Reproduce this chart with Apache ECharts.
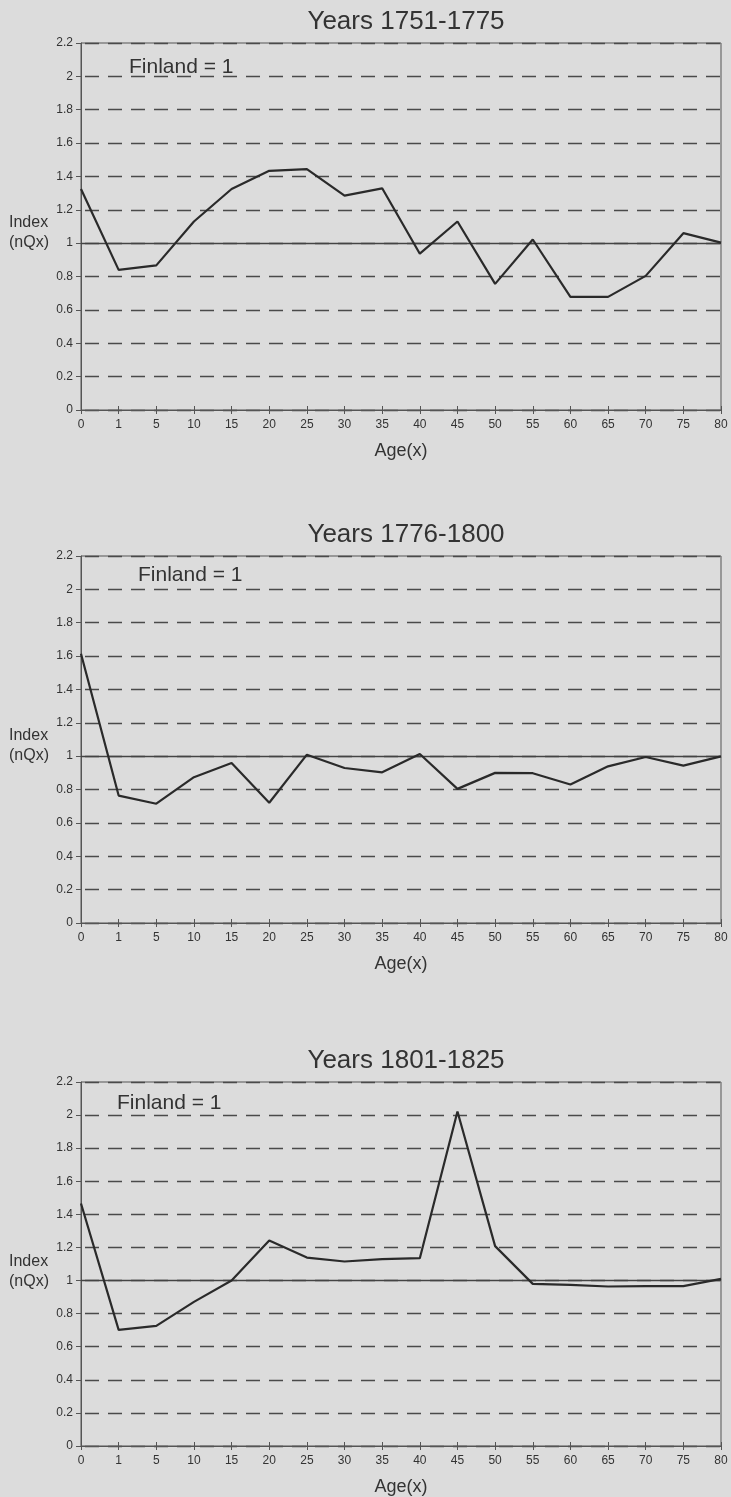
<!DOCTYPE html>
<html>
<head>
<meta charset="utf-8">
<script src="https://cdn.jsdelivr.net/npm/echarts@6/dist/echarts.min.js"></script>
<style>
html,body{margin:0;padding:0;background:#dcdcdc;}
#chart{width:731px;height:1497px;}
</style>
</head>
<body>
<div id="chart"></div>
<script>
const ages = ['0','1','5','10','15','20','25','30','35','40','45','50','55','60','65','70','75','80'];
const titles = ['Years 1751-1775', 'Years 1776-1800', 'Years 1801-1825'];
const values1751 = [1.325,0.84,0.867,1.13,1.325,1.434,1.444,1.285,1.329,0.937,1.13,0.756,1.022,0.678,0.678,0.804,1.06,1.003];
const values1776 = [1.614,0.764,0.715,0.874,0.959,0.721,1.009,0.929,0.903,1.013,0.804,0.9,0.898,0.83,0.939,0.995,0.943,0.999];
const values1801 = [1.466,0.702,0.726,0.871,1.0,1.242,1.139,1.115,1.129,1.135,2.022,1.208,0.98,0.974,0.964,0.966,0.966,1.01];
const referenceLabel = 'Finland = 1';
const yAxisLabel = 'Index\n(nQx)';
const xAxisLabel = 'Age(x)';
const referenceValue = 1;

const allValues = [values1751, values1776, values1801];
const FONT = '"Liberation Sans", Arial, sans-serif';
const INK = '#333';
const tops = [43, 556, 1082];
const plotH = 367;
const left = 81, right = 10;

const chart = echarts.init(document.getElementById('chart'), null, {renderer:'canvas'});
const grid = [], xAxis = [], yAxis = [], series = [], title = [];
tops.forEach((t, i) => {
  grid.push({left: left, right: right, top: t, height: plotH, show: true,
    borderColor: '#555', borderWidth: 1, backgroundColor: 'transparent'});
  xAxis.push({type:'category', gridIndex:i, data: ages, boundaryGap:false,
    axisLine:{lineStyle:{color:'#555', width:1}},
    axisTick:{show:true, length:4, lineStyle:{color:'#555'}},
    axisLabel:{color:INK, fontSize:12, fontFamily:FONT, margin:9},
    name: xAxisLabel, nameLocation:'middle', nameGap:32,
    nameTextStyle:{color:INK, fontSize:18, fontFamily:FONT},
    splitLine:{show:false}});
  xAxis.push({type:'category', gridIndex:i, data: ages, boundaryGap:false, position:'bottom',
    axisLine:{show:false}, axisLabel:{show:false},
    axisTick:{show:true, inside:true, length:4, lineStyle:{color:'#555'}},
    splitLine:{show:false}});
  yAxis.push({type:'value', gridIndex:i, min:0, max:2.2, interval:0.2,
    axisLine:{show:true, lineStyle:{color:'#555', width:1}},
    axisTick:{show:true, length:5, lineStyle:{color:'#555'}},
    axisLabel:{color:INK, fontSize:12, fontFamily:FONT, margin:8,
      formatter: v => (Math.round(v*10)/10).toString()},
    splitLine:{show:true, lineStyle:{color:'#4a4a4a', width:1.4, type:[14,9], dashOffset:-4}}});
  series.push({type:'line', xAxisIndex:2*i, yAxisIndex:i, data: allValues[i],
    symbol:'none', lineStyle:{color:'#2a2a2a', width:2.2}, z:5,
    markLine:{silent:true, symbol:'none', label:{show:false},
      lineStyle:{color:'#444', width:1.3, type:'solid'},
      data:[{yAxis: referenceValue}]}});
  title.push({text: titles[i], left: 401, top: t - 39, textAlign:'center',
    textStyle:{color:INK, fontSize:26, fontWeight:'normal', fontFamily:FONT}});
});
const finlandPos = [[124, 52],[133, 560],[112, 1088]];
finlandPos.forEach(p => title.push({text: referenceLabel, left:p[0], top:p[1],
  textStyle:{color:INK, fontSize:21, fontWeight:'normal', fontFamily:FONT}}));
tops.forEach(t => title.push({text: yAxisLabel, left:4, top:t+165,
  textStyle:{color:INK, fontSize:16, fontWeight:'normal', fontFamily:FONT, lineHeight:20}}));

chart.setOption({backgroundColor:'#dcdcdc', animation:false, grid, xAxis, yAxis, series, title});
</script>
</body>
</html>
